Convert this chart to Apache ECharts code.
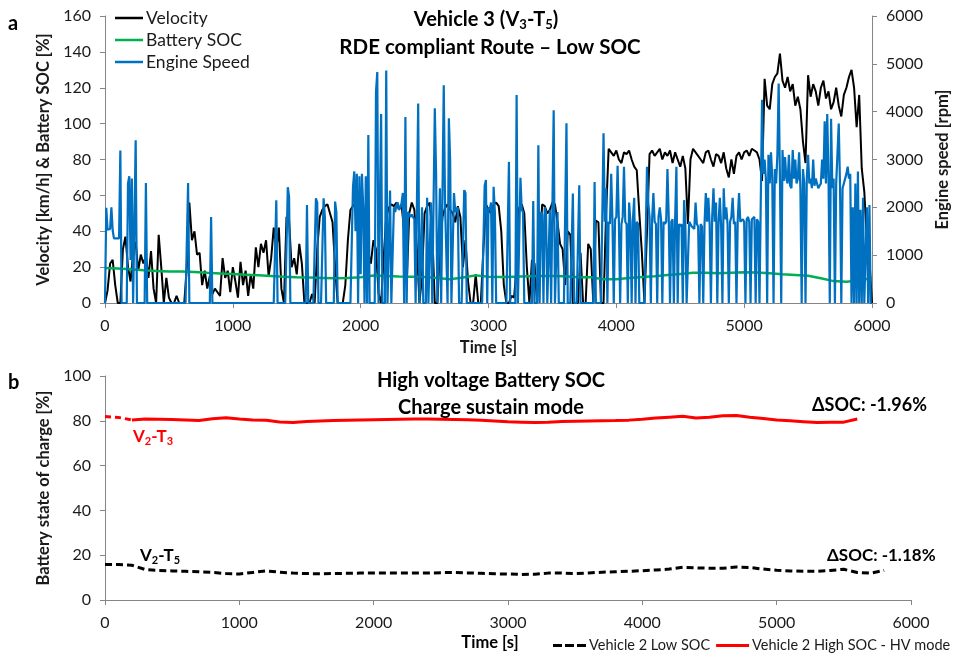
<!DOCTYPE html>
<html><head><meta charset="utf-8">
<script src="https://cdn.jsdelivr.net/npm/echarts@6/dist/echarts.min.js"></script>
<style>html,body{margin:0;padding:0;background:#fff}#c{width:959px;height:656px}</style>
</head><body><div id="c"></div>
<script>
// ---- DATA ----
const velStep = 20; // s
const velocity = [
0,7,22,24,10,0,0,30,37,20,12,28,34,18,27,22,26,14,29,8,0,38,20,0,14,
3,0,0,4,0,0,0,20,56,35,40,27,28,10,18,8,15,5,8,6,4,25,14,18,6,
20,12,3,23,10,18,4,16,8,31,20,33,28,35,15,25,42,30,42,8,0,48,46,20,25,
16,33,22,0,0,0,5,0,30,48,52,54,55,50,45,20,0,0,0,10,35,52,54,56,48,
56,52,40,28,22,35,30,5,0,25,48,53,55,54,56,52,55,40,10,50,56,52,30,0,15,
50,54,56,40,0,0,30,48,53,55,52,50,45,54,48,20,35,12,0,0,16,0,0,30,55,
52,50,55,56,54,40,10,0,0,4,3,20,53,55,50,20,0,24,22,0,30,55,54,50,52,
56,55,45,33,30,10,40,38,0,0,0,28,0,0,33,30,0,46,45,0,0,50,86,84,82,
85,80,78,84,83,85,80,76,74,50,28,0,40,83,85,82,84,86,80,84,82,85,78,84,80,
76,82,75,44,80,86,84,82,80,78,84,85,80,76,83,82,78,84,75,70,80,72,82,84,80,
84,85,82,86,85,84,80,68,125,110,108,122,126,128,139,124,120,126,118,122,110,115,108,90,78,
127,115,122,118,110,120,124,114,118,108,112,120,110,104,116,120,126,130,120,98,116,75,62,35,24,
0];
const engStep = 10; // s
const engineSpeed = [
0,1990,1530,1530,1550,2000,1520,1350,1350,1350,
1350,1350,3190,0,0,0,0,0,2500,2650,
900,2600,0,0,3400,0,0,0,0,0,
0,0,2510,0,0,0,0,0,0,0,
0,0,0,0,0,0,0,0,0,0,
0,0,0,0,0,0,0,0,0,0,
0,0,0,0,0,2510,0,0,0,0,
0,0,0,0,0,0,0,0,0,0,
0,0,0,1800,0,0,0,0,0,0,
0,0,0,0,0,0,0,0,0,0,
0,0,0,0,0,0,0,0,0,0,
0,0,0,0,0,0,0,0,0,0,
0,0,0,0,0,0,0,0,0,0,
0,0,0,0,2150,0,0,0,0,0,
0,0,0,2420,2220,0,0,0,0,0,
0,0,0,0,0,0,0,0,2050,0,
0,0,0,0,0,2190,2100,0,0,0,
0,2190,1800,0,0,0,0,0,0,0,
2120,1900,0,0,0,0,0,0,0,0,
0,0,0,0,2430,2750,1500,2700,0,2650,
600,2700,2000,0,2650,0,3510,0,0,0,
0,0,4420,4830,0,2000,3950,0,0,0,
4860,0,0,2350,0,0,2000,1900,2050,2100,
1950,2000,2090,2300,0,3890,0,1900,1850,1800,
1850,1800,1750,0,0,4170,0,0,2000,0,
0,0,2200,0,0,2100,0,0,4070,2700,
0,0,2400,0,0,4550,2100,2080,0,3860,
2990,0,0,2300,1900,1900,2000,0,0,0,
0,2360,2300,0,0,0,0,0,0,0,
0,0,0,0,0,0,0,2450,2570,0,
2000,1950,2100,0,2430,1900,0,0,0,0,
0,0,0,0,0,0,2950,0,0,0,
0,0,4350,0,0,2620,1950,1900,0,0,
0,0,0,0,0,2130,0,0,0,3300,
0,1900,1850,0,2000,1900,0,0,1950,0,
0,4030,0,0,1900,0,0,0,0,0,
0,3760,0,0,0,0,2290,0,0,0,
0,2460,0,0,0,0,0,0,0,0,
0,0,0,2530,0,0,0,0,0,0,
3550,1700,2400,0,1700,1650,2700,1700,0,1750,
1800,2870,1700,0,1650,1800,2850,1700,1650,0,
2100,1700,0,1750,2200,0,1700,1650,0,0,
0,0,0,0,2850,2100,1800,0,1750,2300,
1700,1650,0,1800,2000,1750,0,1700,1650,1700,
2800,1800,0,1700,1750,0,1750,2850,0,1650,
1600,1650,0,2150,1650,0,0,1700,1650,1600,
1600,1550,2100,1650,1600,0,1650,1600,0,1650,
2300,1700,2200,1650,0,1800,2400,1700,2100,0,
1700,2200,1600,0,2400,1750,2000,1650,0,1700,
1800,2200,1650,1700,0,1750,2300,1700,1700,1750,
1700,0,1750,1800,1700,0,1750,1750,1800,0,
1750,1700,0,0,4250,2700,3000,2600,0,3100,
2500,3150,2600,0,2800,2500,3100,4590,2600,0,
3200,2550,3050,2600,2500,3100,2450,2400,3200,2600,
3000,2500,2600,3150,2400,0,2800,2500,0,2600,
3100,2500,2600,2400,3000,2450,2600,2500,2400,2450,
2500,3000,2600,3800,2500,3950,2600,0,3850,2400,
2600,0,2500,2500,3750,2450,0,2400,2500,2600,
2700,2850,2600,2700,0,2000,0,2500,0,2750,
0,1950,0,2200,0,0,2000,0,2050,0,
0];
const socStep = 100; // s
const batterySOC = [19.5,19.2,18.8,18.3,17.9,17.6,17.5,17.3,16.8,16.4,
16.1,15.8,15.5,15.1,14.7,14.4,14.2,14.0,13.8,13.9,
14.4,15.3,15.0,14.8,14.7,14.5,14.0,13.3,14.2,15.4,
14.6,14.5,14.7,14.9,15.0,15.0,14.9,14.4,14.3,13.2,
13.3,14.0,14.5,14.9,15.6,16.2,16.8,16.9,16.6,16.9,
17.1,17.0,16.6,16.0,15.6,15.2,13.8,12.2,11.8,12.6,13.9];
const bStep = 100; // s
const lowSOC = [15.9,15.8,15.5,13.6,13.2,13.0,12.8,12.6,12.3,11.8,
11.6,12.3,13.0,12.4,12.0,11.8,11.7,11.8,11.9,12.0,
12.0,12.1,12.0,12.0,12.0,12.2,12.3,12.1,11.9,11.7,
11.6,11.4,11.5,12.0,12.0,11.8,12.1,12.4,12.6,12.8,
13.1,13.4,13.8,14.6,14.3,14.2,14.2,14.7,14.5,13.8,
13.3,13.0,12.8,12.8,13.2,13.7,12.3,12.0,13.2];
const highSOC = [81.9,81.5,80.4,80.8,80.7,80.6,80.4,80.1,80.9,81.4,
80.8,80.4,80.2,79.5,79.2,79.7,79.9,80.1,80.3,80.4,
80.5,80.6,80.7,80.8,80.8,80.7,80.6,80.5,80.2,79.9,
79.6,79.4,79.2,79.4,79.7,79.8,79.9,80.0,80.1,80.3,
80.7,81.2,81.6,82.0,81.3,81.6,82.3,82.4,81.6,81.0,
80.4,80.0,79.6,79.2,79.3,79.4,80.8];
const xTicksTop = {min:0, max:6000, interval:1000};
const yTicksLeft = {min:0, max:160, interval:20};
const yTicksRight = {min:0, max:6000, interval:1000};
const yTicksBottom = {min:0, max:100, interval:20};

// ---- CHART ----
const toXY = (arr, step) => arr.map((v, i) => [i * step, v]);
const FONT = 'Lato';
const axCol = '#868686';
const txt = '#1a1a1a';
const plain = v => String(v);
function lab(margin) {
  return {color: txt, fontSize: 16, fontFamily: FONT, margin: margin, formatter: plain};
}
function baseAxis(extra) {
  return Object.assign({
    type: 'value',
    axisLine: {show: true, lineStyle: {color: axCol, width: 1}},
    axisTick: {show: true, inside: false, length: 5, lineStyle: {color: axCol}},
    splitLine: {show: false},
    nameTextStyle: {color: txt, fontSize: 16.5, fontWeight: 'bold', fontFamily: FONT}
  }, extra);
}
const highAll = toXY(highSOC, bStep);
const chart = echarts.init(document.getElementById('c'), null, {renderer: 'canvas'});
const subRich = {
  sub: {fontSize: 13, fontWeight: 'bold', fontFamily: FONT, padding: [10, 0, 0, 0]},
};
const dashIcon = 'path://M0,0h9v3h-9z M12,0h9v3h-9z M24,0h9v3h-9z';
chart.setOption({
  animation: false,
  backgroundColor: '#fff',
  textStyle: {fontFamily: FONT},
  grid: [
    {left: 105, top: 16, width: 780, height: 287},
    {left: 105, top: 376, width: 806, height: 224}
  ],
  xAxis: [
    baseAxis(Object.assign({gridIndex: 0, name: 'Time [s]', nameLocation: 'middle', nameGap: 36,
      axisLabel: lab(15)}, xTicksTop)),
    baseAxis(Object.assign({gridIndex: 1, axisLabel: lab(15)}, xTicksTop))
  ],
  yAxis: [
    baseAxis(Object.assign({gridIndex: 0, position: 'left', name: 'Velocity [km/h] & Battery SOC [%]',
      nameLocation: 'middle', nameGap: 52, axisLabel: lab(14)}, yTicksLeft)),
    baseAxis(Object.assign({gridIndex: 0, position: 'right', name: 'Engine speed [rpm]',
      nameLocation: 'middle', nameGap: 58, axisLabel: lab(14)}, yTicksRight)),
    baseAxis(Object.assign({gridIndex: 1, position: 'left', name: 'Battery state of charge [%]',
      nameLocation: 'middle', nameGap: 52, axisLabel: lab(14)}, yTicksBottom))
  ],
  legend: [
    {orient: 'vertical', left: 110, top: 4, itemGap: 4, itemWidth: 28, itemHeight: 2.5, icon: 'rect',
      textStyle: {fontSize: 17.5, color: txt, fontFamily: FONT, padding: [0, 0, 0, -2]},
      data: ['Velocity', 'Battery SOC', 'Engine Speed']},
    {orient: 'horizontal', left: 548, top: 633, itemGap: 6, itemWidth: 33, itemHeight: 3,
      textStyle: {fontSize: 14.5, color: txt, fontFamily: FONT, padding: [0, 0, 0, -2]},
      data: [{name: 'Vehicle 2 Low SOC', icon: dashIcon}, {name: 'Vehicle 2 High SOC - HV mode', icon: 'rect'}]}
  ],
  series: [
    {name: 'Velocity', type: 'line', xAxisIndex: 0, yAxisIndex: 0, data: toXY(velocity, velStep),
      symbol: 'none', lineStyle: {color: '#000', width: 2}, itemStyle: {color: '#000'}},
    {name: 'Battery SOC', type: 'line', xAxisIndex: 0, yAxisIndex: 0, data: toXY(batterySOC, socStep),
      symbol: 'none', lineStyle: {color: '#00B050', width: 2.5}, itemStyle: {color: '#00B050'}},
    {name: 'Engine Speed', type: 'line', xAxisIndex: 0, yAxisIndex: 1, data: toXY(engineSpeed, engStep),
      symbol: 'none', lineStyle: {color: '#0070C0', width: 2.2}, itemStyle: {color: '#0070C0'}},
    {name: 'Vehicle 2 Low SOC', type: 'line', xAxisIndex: 1, yAxisIndex: 2, data: toXY(lowSOC, bStep),
      symbol: 'none', lineStyle: {color: '#000', width: 3, type: [7, 4]}, itemStyle: {color: '#000'}},
    {name: 'Vehicle 2 High SOC - HV mode', type: 'line', xAxisIndex: 1, yAxisIndex: 2, data: highAll.slice(2),
      symbol: 'none', lineStyle: {color: '#FF0000', width: 3}, itemStyle: {color: '#FF0000'}},
    {name: 'Vehicle 2 High SOC - HV mode', type: 'line', xAxisIndex: 1, yAxisIndex: 2, data: highAll.slice(0, 3),
      symbol: 'none', lineStyle: {color: '#FF0000', width: 3, type: [6, 4]}, itemStyle: {color: '#FF0000'}}
  ],
  graphic: [
    {type: 'text', x: 8, y: 24, style: {text: 'a', font: 'bold 20px ' + FONT, fill: '#000', verticalAlign: 'middle'}},
    {type: 'text', x: 8, y: 383, style: {text: 'b', font: 'bold 20px ' + FONT, fill: '#000', verticalAlign: 'middle'}},
    {type: 'text', x: 486, y: 20, style: {text: 'Vehicle 3 (V{sub|3}-T{sub|5})', fontSize: 20, fontWeight: 'bold', fontFamily: FONT,
      fill: '#000', align: 'center', verticalAlign: 'middle', rich: subRich}},
    {type: 'text', x: 490, y: 47, style: {text: 'RDE compliant Route \u2013 Low SOC', fontSize: 20.5, fontWeight: 'bold', fontFamily: FONT,
      fill: '#000', align: 'center', verticalAlign: 'middle'}},
    {type: 'text', x: 491, y: 381, style: {text: 'High voltage Battery SOC', fontSize: 20, fontWeight: 'bold', fontFamily: FONT,
      fill: '#000', align: 'center', verticalAlign: 'middle'}},
    {type: 'text', x: 491, y: 408, style: {text: 'Charge sustain mode', fontSize: 20, fontWeight: 'bold', fontFamily: FONT,
      fill: '#000', align: 'center', verticalAlign: 'middle'}},
    {type: 'text', x: 133, y: 437, style: {text: 'V{sub|2}-T{sub|3}', fontSize: 17, fontWeight: 'bold', fontFamily: FONT,
      fill: '#FF0000', verticalAlign: 'middle', rich: {sub: {fontSize: 11, fontWeight: 'bold', fontFamily: FONT, fill: '#FF0000', padding: [9, 0, 0, 0]}}}},
    {type: 'text', x: 140, y: 556, style: {text: 'V{sub|2}-T{sub|5}', fontSize: 17, fontWeight: 'bold', fontFamily: FONT,
      fill: '#000', verticalAlign: 'middle', rich: {sub: {fontSize: 11, fontWeight: 'bold', fontFamily: FONT, fill: '#000', padding: [9, 0, 0, 0]}}}},
    {type: 'text', x: 812, y: 405, style: {text: '\u0394SOC: -1.96%', fontSize: 18, fontWeight: 'bold', fontFamily: FONT,
      fill: '#000', verticalAlign: 'middle'}},
    {type: 'text', x: 827, y: 556, style: {text: '\u0394SOC: -1.18%', fontSize: 17, fontWeight: 'bold', fontFamily: FONT,
      fill: '#000', verticalAlign: 'middle'}},
    {type: 'text', x: 490, y: 643, style: {text: 'Time [s]', fontSize: 16.5, fontWeight: 'bold', fontFamily: FONT,
      fill: '#000', align: 'center', verticalAlign: 'middle'}}
  ]
});
</script></body></html>
